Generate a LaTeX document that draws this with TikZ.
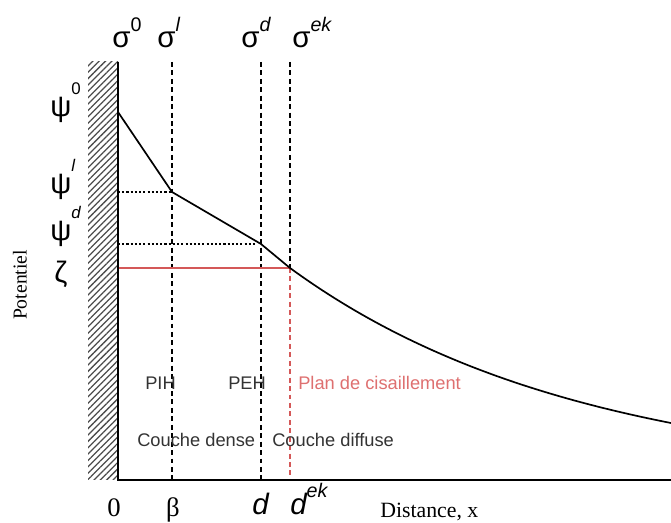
\documentclass[tikz,border=0pt]{standalone}
\usepackage{fontspec}
\setmainfont{Liberation Serif}
\setsansfont{Liberation Sans}
\usetikzlibrary{patterns.meta}
\definecolor{shear}{RGB}{212,88,88}
\definecolor{sheartxt}{RGB}{222,112,112}
\newcommand{\hi}[3][0.55em]{\raisebox{#1}{\fontsize{#2}{#2}\selectfont #3}}

\begin{document}
\begin{tikzpicture}[x=0.025cm,y=-0.025cm,
 axis/.style={line width=1.3pt},
 crv/.style={line width=1.2pt,line join=round},
 plane/.style={line width=1.3pt,dash pattern=on 3.5pt off 2.5pt},
 lvl/.style={line width=0.8pt,dash pattern=on 1.5pt off 1.5pt},
 gk/.style={font=\sffamily\fontsize{21}{22}\selectfont,inner sep=0pt,anchor=base west},
 zn/.style={font=\sffamily\fontsize{13}{14}\selectfont,inner sep=0pt,anchor=base west,text=black!80},
 tk/.style={font=\fontsize{19}{20}\selectfont,inner sep=0pt,anchor=base},
 dk/.style={font=\sffamily\itshape\fontsize{21}{22}\selectfont,inner sep=0pt,anchor=base west}]
\useasboundingbox (0,0) rectangle (671,523);
% wall
\fill[pattern={Lines[angle=45,distance=3.2pt,line width=0.9pt]},pattern color=black!70] (88,62) rectangle (118,480);
% points on the curve
\coordinate (p0) at (118,112);
\coordinate (pb) at (172,192);
\coordinate (pd) at (261,244);
\coordinate (pz) at (290,268);
% planes
\draw[plane] (172,62) coordinate (tb) -- (172,480) coordinate (bb);
\draw[plane] (261,62) coordinate (td) -- (261,480) coordinate (bd);
\draw[plane] (290,62) coordinate (tz) -- (pz);
\draw[plane,shear] (pz) -- (290,480) coordinate (bz);
% levels
\draw[lvl] (118,192) -- (pb);
\draw[lvl] (118,244) -- (255,244);
\draw[line width=0.9pt,shear] (118,268) -- (pz);
% axes
\draw[axis] (118,62) -- (118,480) -- (671,480);
% potential
\draw[crv] (p0) -- (pb) -- (pd) -- (pz)
 -- plot[domain=290:671,samples=60] (\x,{480-212*exp(-0.00345*(\x-290))});
% charges
\node[gk] (s0) at (112,48) {σ\hi{14}{0}};
\node[gk] (sb) at (157,48) {σ\hi{14}{\itshape l}};
\node[gk] (sd) at (241,48) {σ\hi{14}{\itshape d}};
\node[gk] (sz) at (292,48) {σ\hi{14}{\itshape ek}};
% potentials
\node[gk] (y0) at (50,117) {ψ\hi[0.75em]{12}{0}};
\node[gk] (yb) at (50,194) {ψ\hi[0.75em]{12}{\itshape l}};
\node[gk] (yd) at (50,241) {ψ\hi[0.75em]{12}{\itshape d}};
\node[gk] (yz) at (54,283) {ζ};
\node[font=\fontsize{14}{16}\selectfont,rotate=90] (pot) at (20,285) {Potentiel};
% zones
\node[zn] (pih) at (145,390) {PIH};
\node[zn] (peh) at (228,390) {PEH};
\node[zn,text=sheartxt] (pc) at (298,390) {Plan de cisaillement};
\node[zn] (cd) at (137,447) {Couche dense};
\node[zn] (cf) at (272,447) {Couche diffuse};
% distances
\node[tk] (x0) at (114,517) {0};
\node[tk] (xb) at (173,517) {β};
\node[dk] (xd) at (252,515) {d};
\node[dk] (xz) at (290,515) {d\hi[0.6em]{14}{ek}};
\node[font=\fontsize{15.5}{17}\selectfont,inner sep=0pt,anchor=base west] (dist) at (380,518) {Distance, x};
\end{tikzpicture}
\end{document}
